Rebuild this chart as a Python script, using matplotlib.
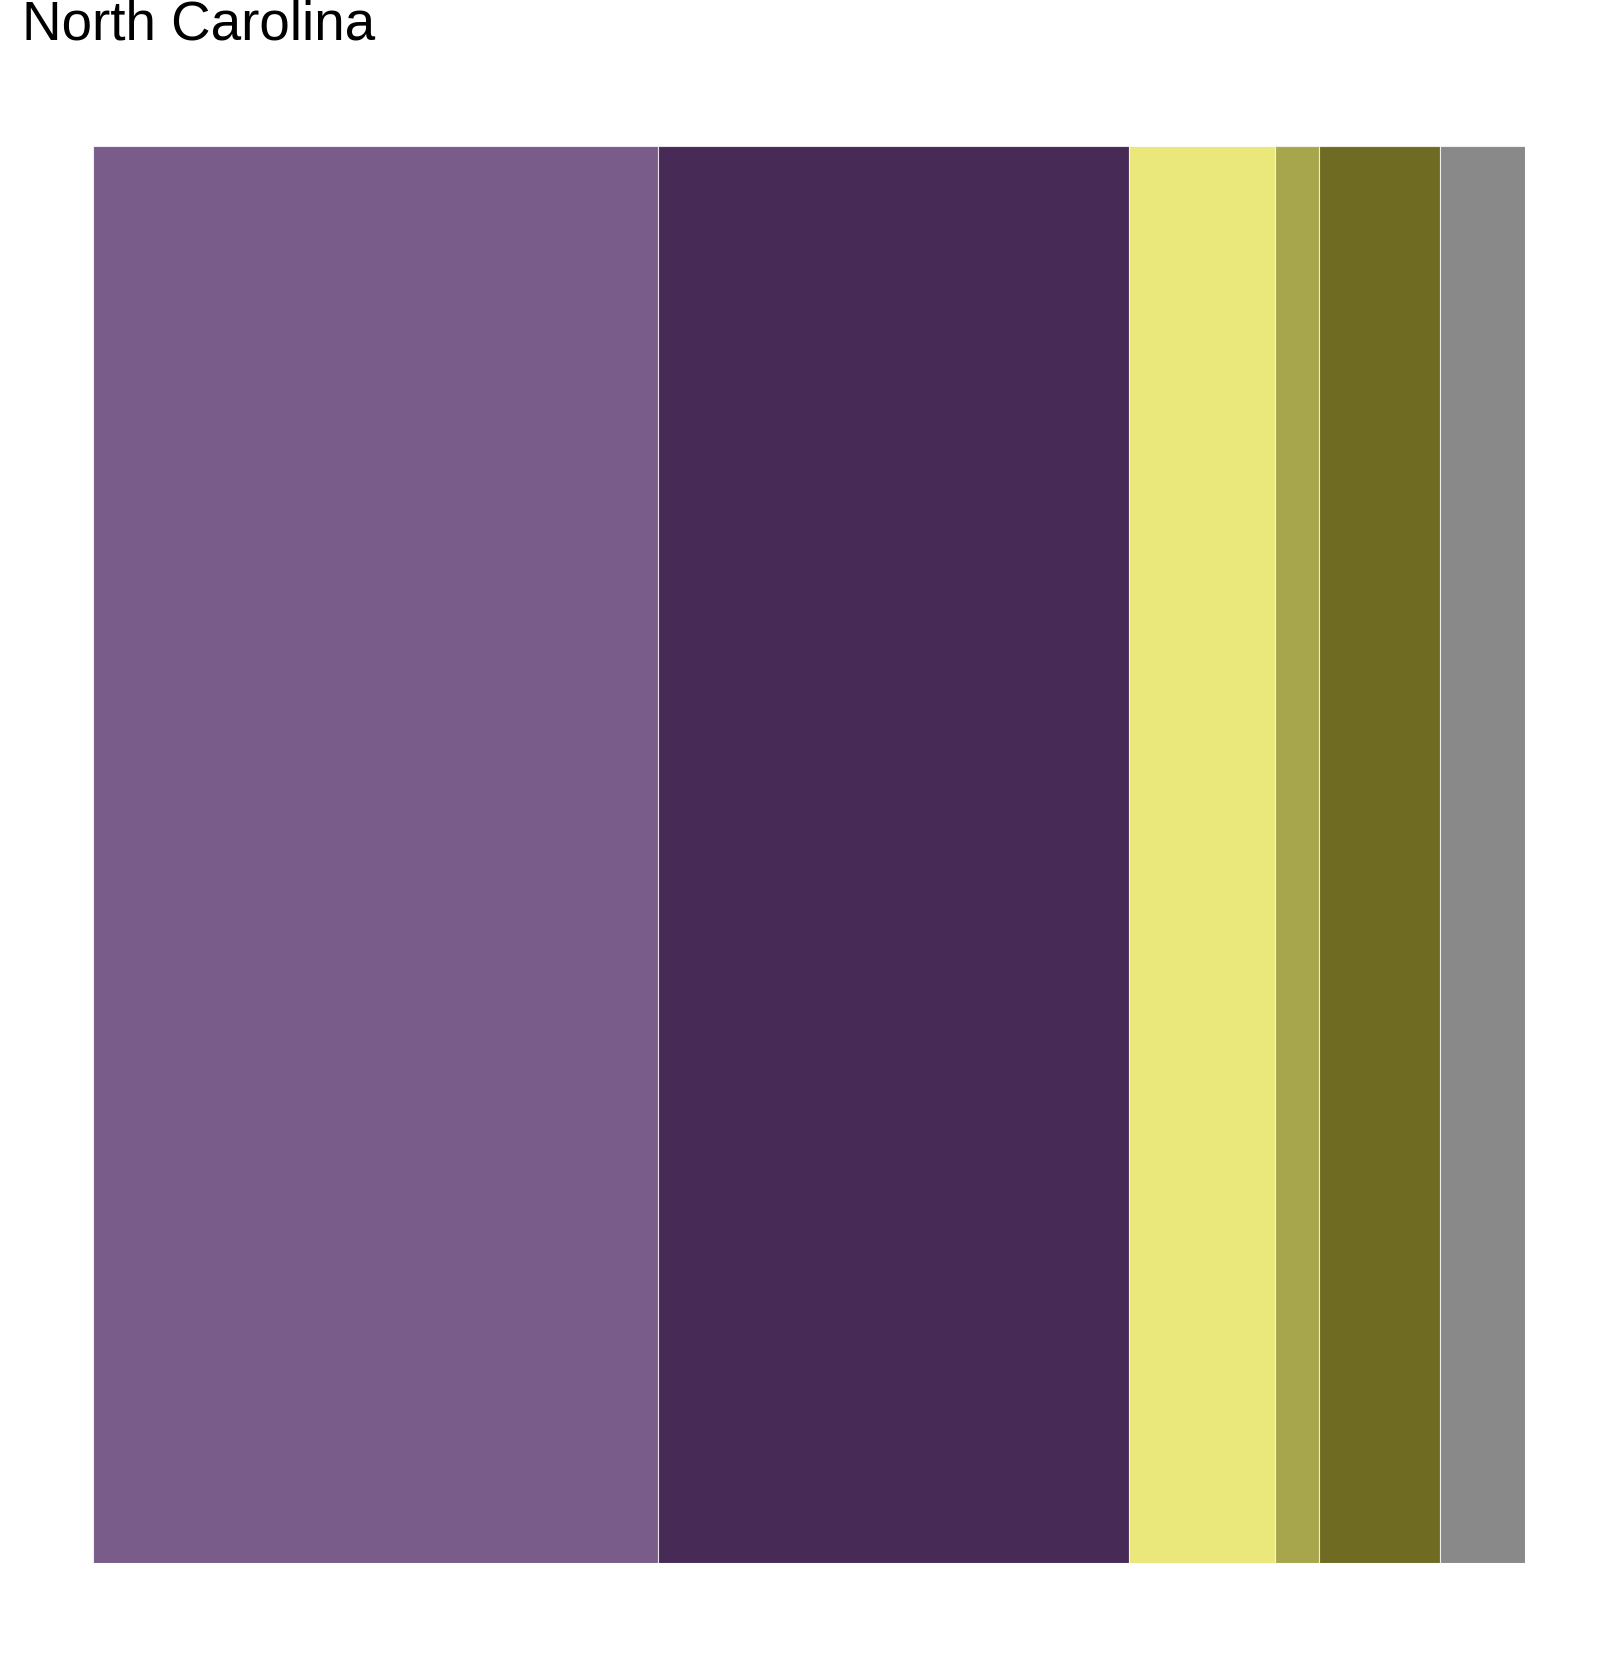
import matplotlib
matplotlib.use("Agg")
import matplotlib.pyplot as plt
import numpy as np

categories = ["A", "B", "C", "D", "E", "F"]
shares = [39.48, 32.89, 10.17, 3.07, 8.43, 5.96]
colors = ["#7A5C8A", "#482A57", "#EAE87A", "#A8A64D", "#706B22", "#898989"]

W, H = 1608, 1654
fig = plt.figure(figsize=(W / 100, H / 100), dpi=100)
ax = fig.add_axes([93 / W, (H - 1563) / H, 1432 / W, 1417 / H])

lefts = np.concatenate([[0], np.cumsum(shares)[:-1]])
ax.bar(lefts, [1] * len(shares), width=shares, align="edge", color=colors,
       edgecolor=(1, 1, 1, 0.75), linewidth=0.8)
ax.set_xlim(0, sum(shares))
ax.set_ylim(0, 1)
ax.axis("off")

fig.text(22 / W, 1 - 40 / H, "North Carolina", fontsize=39.4,
         family=["Liberation Sans", "DejaVu Sans"], va="baseline", ha="left")

fig.savefig("out.png", dpi=100)
